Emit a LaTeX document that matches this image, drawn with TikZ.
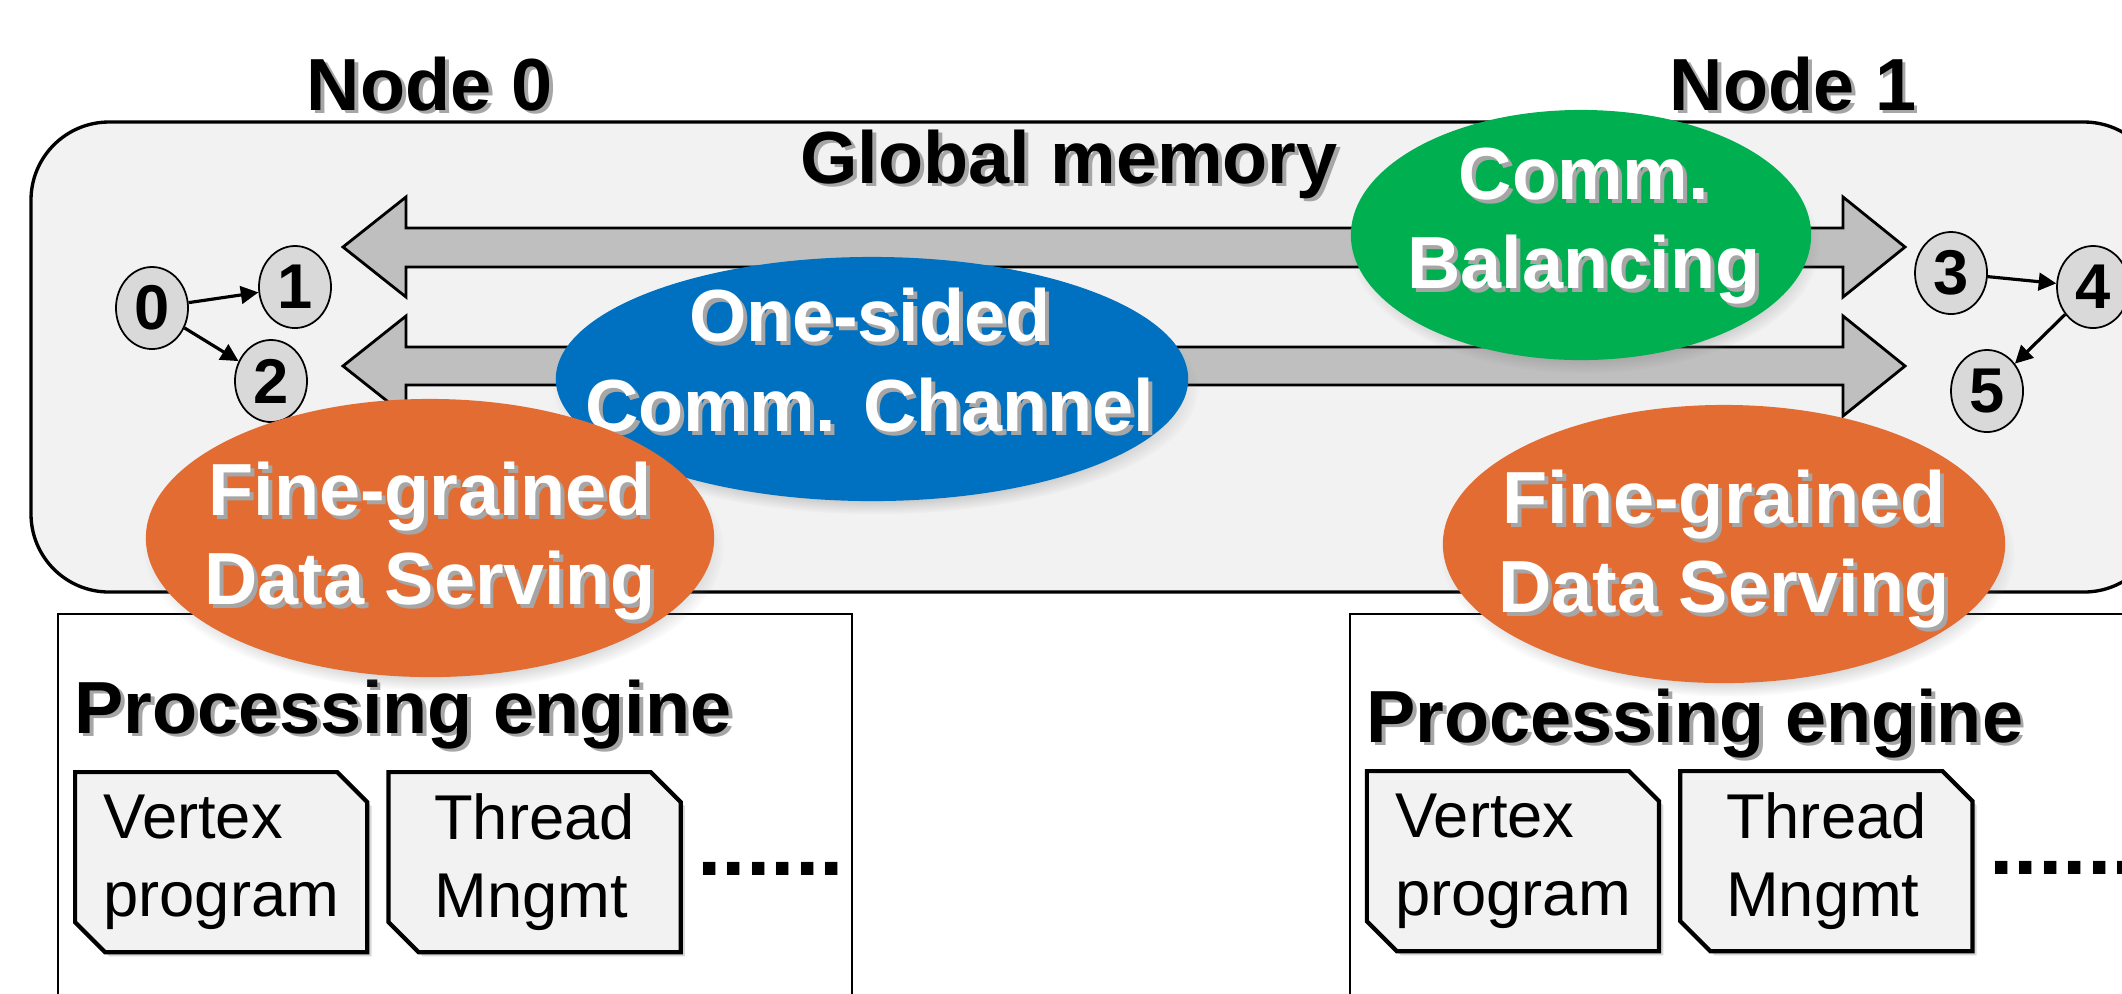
\documentclass[tikz,border=0pt]{standalone}
\usepackage{fontspec}
\setmainfont{Liberation Sans}
\usetikzlibrary{positioning,shapes.geometric,shapes.misc,shadows,arrows.meta}
\definecolor{memgray}{HTML}{F2F2F2}
\definecolor{arrgray}{HTML}{BFBFBF}
\definecolor{vtxgray}{HTML}{D9D9D9}
\definecolor{chanblue}{HTML}{0070C0}
\definecolor{balgreen}{HTML}{00B050}
\definecolor{servorange}{HTML}{E36C33}
\newcommand{\tsh}[1]{\leavevmode\rlap{\kern1.1pt\raisebox{-1.1pt}{\color{black!35}#1}}#1}
\begin{document}
\begin{tikzpicture}[x=0.01cm,y=-0.01cm,
  ttl/.style={font=\fontsize{21}{25.5}\selectfont\bfseries,inner sep=0pt},
  vtx/.style={ellipse,draw,line width=0.5pt,fill=vtxgray,minimum width=0.72cm,minimum height=0.82cm,inner sep=0pt,font=\fontsize{18}{20}\selectfont\bfseries},
  edg/.style={line width=0.9pt,-{Triangle[length=5pt,width=5pt]}},
  bigarr/.style={draw,line width=0.8pt,fill=arrgray},
  blob/.style={ellipse,inner sep=0pt,circular drop shadow={shadow scale=1.02,shadow xshift=1pt,shadow yshift=-3pt,opacity=.45}},
  blobtxt/.style={inner sep=0pt,text=white,align=center,font=\fontsize{21}{25.5}\selectfont\bfseries},
  modbox/.style={chamfered rectangle,chamfered rectangle corners={north east,south west},chamfered rectangle sep=0.15cm,draw,line width=1.2pt,fill=memgray,minimum width=2.92cm,minimum height=1.8cm,inner sep=0pt,align=left,font=\fontsize{18}{22}\selectfont,drop shadow={shadow xshift=1.2pt,shadow yshift=-1.2pt,opacity=.3}},
  moredots/.style={inner sep=0pt,font=\fontsize{25}{30}\selectfont\bfseries}]
  \useasboundingbox (0,0) rectangle (2122,993);
  \clip (0,0) rectangle (2122,993);

  \draw[line width=0.95pt,fill=memgray,rounded corners=0.78cm] (31,122) rectangle (2162,592);
  \node[ttl,anchor=base] (n0) at (430,110) {\tsh{Node 0}};
  \node[ttl,anchor=base] (n1) at (1793,110) {\tsh{Node 1}};
  \node[ttl,anchor=base] (gmem) at (1069,183) {\tsh{Global memory}};

  \draw[bigarr] (343,247) -- (406,197) -- (406,228) -- (1843,228) -- (1843,197) -- (1905,247)
    -- (1843,297) -- (1843,267) -- (406,267) -- (406,297) -- cycle;
  \draw[bigarr] (343,366) -- (406,316) -- (406,347) -- (1843,347) -- (1843,316) -- (1905,366)
    -- (1843,416) -- (1843,385) -- (406,385) -- (406,416) -- cycle;

  \node[vtx] (v0) at (152,308) {0};
  \node[vtx] (v1) at (295,287) {1};
  \node[vtx] (v2) at (271,381) {2};
  \node[vtx] (v3) at (1951,273) {3};
  \node[vtx] (v4) at (2093,287) {4};
  \node[vtx] (v5) at (1987,391) {5};
  \draw[edg] (v0) -- (v1);
  \draw[edg] (v0) -- (v2);
  \draw[edg] (v3) -- (v4);
  \draw[edg] (v4) -- (v5);

  \begin{scope}
    \draw[line width=0.45pt,fill=white] (58,614) rectangle (852,1010);
    \node[ttl,anchor=base west] (pe0) at (74,733) {\tsh{Processing engine}};
    \node[modbox,anchor=north west] (vp0) at (73,770) {Vertex\\program};
    \node[modbox,right=0.17cm of vp0] (tm0) {Thread\\Mngmt};
    \node[moredots,right=0.14cm of tm0,yshift=-0.07cm] (more0) {......};
  \end{scope}
  \begin{scope}[xshift=12.91cm]
    \draw[line width=0.45pt,fill=white] (58,614) rectangle (900,1010);
    \node[ttl,anchor=base west] (pe1) at (74,742) {\tsh{Processing engine}};
    \node[modbox,anchor=north west] (vp1) at (73,769) {Vertex\\program};
    \node[modbox,right=0.17cm of vp1] (tm1) {Thread\\Mngmt};
    \node[moredots,right=0.14cm of tm1,yshift=-0.07cm] (more1) {......};
  \end{scope}

  \node[blob,fill=chanblue,minimum width=6.32cm,minimum height=2.44cm] (chan) at (872,379) {};
  \node[blobtxt] at (870,362) {\tsh{One-sided}\\\tsh{Comm. Channel}};
  \node[blob,fill=servorange,minimum width=5.68cm,minimum height=2.78cm] (serv0) at (430,538) {};
  \node[blobtxt] at (430,543) {\tsh{Fine-grained}\\\tsh{Data Serving}};
  \node[blob,fill=balgreen,minimum width=4.6cm,minimum height=2.5cm] (bal) at (1581,235) {};
  \node[blobtxt] at (1584,228) {\tsh{Comm.}\\\tsh{Balancing}};
  \node[blob,fill=servorange,minimum width=5.62cm,minimum height=2.78cm] (serv1) at (1724,544) {};
  \node[blobtxt] at (1724,551) {\tsh{Fine-grained}\\\tsh{Data Serving}};
\end{tikzpicture}
\end{document}
